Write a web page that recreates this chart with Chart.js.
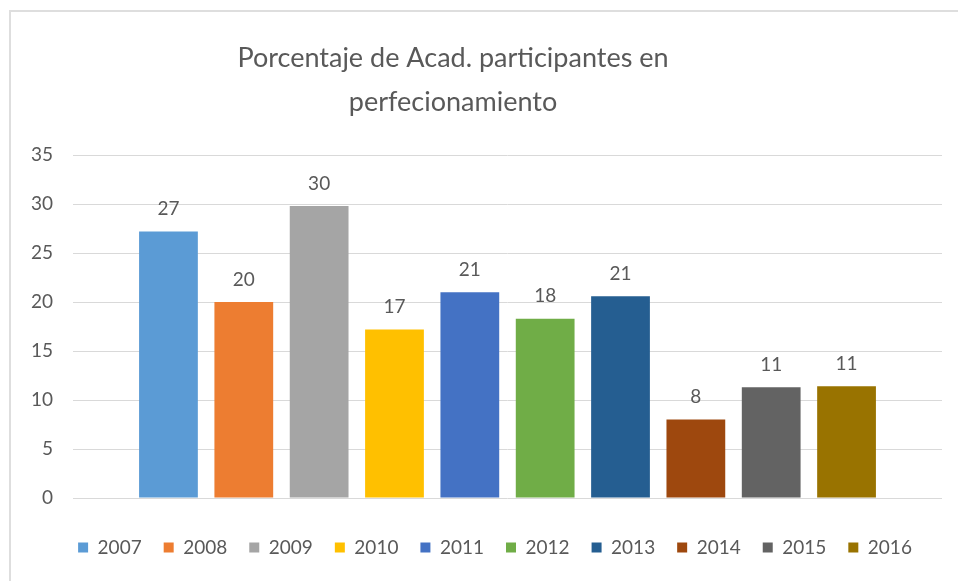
<!DOCTYPE html>
<html>
<head>
<meta charset="utf-8">
<script src="https://cdn.jsdelivr.net/npm/chart.js@4"></script>
<style>
  html, body { margin: 0; padding: 0; background: #fff; overflow: hidden; }
  #frame { position: absolute; left: 9px; top: 10px; width: 1000px; height: 600px; border: 2px solid #dedede; box-sizing: border-box; }
  #box { position: absolute; left: 0; top: 0; width: 958px; height: 581px; }
</style>
</head>
<body>
<div id="frame"></div>
<div id="box"><canvas id="chart"></canvas></div>
<script>
const years = ['2007', '2008', '2009', '2010', '2011', '2012', '2013', '2014', '2015', '2016'];
const values = [27.2, 20.0, 29.8, 17.2, 21.0, 18.3, 20.6, 8.0, 11.3, 11.4];
const colors = ['#5B9BD5', '#ED7D31', '#A5A5A5', '#FFC000', '#4472C4', '#70AD47', '#255E91', '#9E480E', '#636363', '#997300'];
const yTicks = [0, 5, 10, 15, 20, 25, 30, 35];
const titleLines = ['Porcentaje de Acad. participantes en', 'perfecionamiento'];

const grey = '#595959';
const fontName = 'Lato, "Open Sans", sans-serif';

// labels above each bar, Excel style
const barLabels = {
    id: 'barLabels',
    afterDatasetsDraw(chart) {
        const ctx = chart.ctx;
        ctx.save();
        ctx.fillStyle = grey;
        ctx.font = '19px ' + fontName;
        ctx.textAlign = 'center';
        ctx.textBaseline = 'bottom';
        chart.data.datasets.forEach((ds, i) => {
            const meta = chart.getDatasetMeta(i);
            meta.data.forEach((bar, j) => {
                ctx.fillText(Math.round(ds.data[j]), bar.x, bar.y - 13);
            });
        });
        ctx.restore();
    }
};

// the original centres title and legend a bit differently
const boxShift = {
    id: 'boxShift',
    afterLayout(chart) {
        chart.titleBlock.left = 0;
        chart.titleBlock.right = 906;
        chart.legend.left = 48;
        chart.legend.right = 942;
    }
};

const datasets = years.map((y, i) => ({
    label: y,
    data: [values[i]],
    backgroundColor: colors[i],
    categoryPercentage: 0.867,
    barPercentage: 0.78
}));

new Chart(document.getElementById('chart'), {
    type: 'bar',
    data: { labels: [''], datasets: datasets },
    options: {
        responsive: true,
        maintainAspectRatio: false,
        animation: false,
        layout: { padding: { left: 0, right: 16, top: 14, bottom: 14 } },
        plugins: {
            title: {
                display: true,
                text: titleLines,
                color: grey,
                font: { family: fontName, size: 27, weight: 'normal', lineHeight: 1.63 },
                padding: { top: 22, bottom: 31 }
            },
            legend: {
                position: 'bottom',
                labels: {
                    color: grey,
                    font: { family: fontName, size: 19 },
                    boxWidth: 10,
                    boxHeight: 10,
                    padding: 22
                }
            },
            tooltip: { enabled: false }
        },
        scales: {
            x: {
                grid: { display: false },
                border: { display: false },
                ticks: { display: false },
                afterFit(scale) { scale.height = 18; }
            },
            y: {
                min: 0,
                max: 35,
                afterBuildTicks(scale) {
                    scale.ticks = yTicks.map(v => ({ value: v }));
                },
                afterFit(scale) { scale.width = 73; },
                grid: { color: '#d9d9d9', drawTicks: false },
                border: { display: false },
                ticks: { color: grey, font: { family: fontName, size: 19 }, padding: 20 }
            }
        }
    },
    plugins: [barLabels, boxShift]
});
</script>
</body>
</html>
